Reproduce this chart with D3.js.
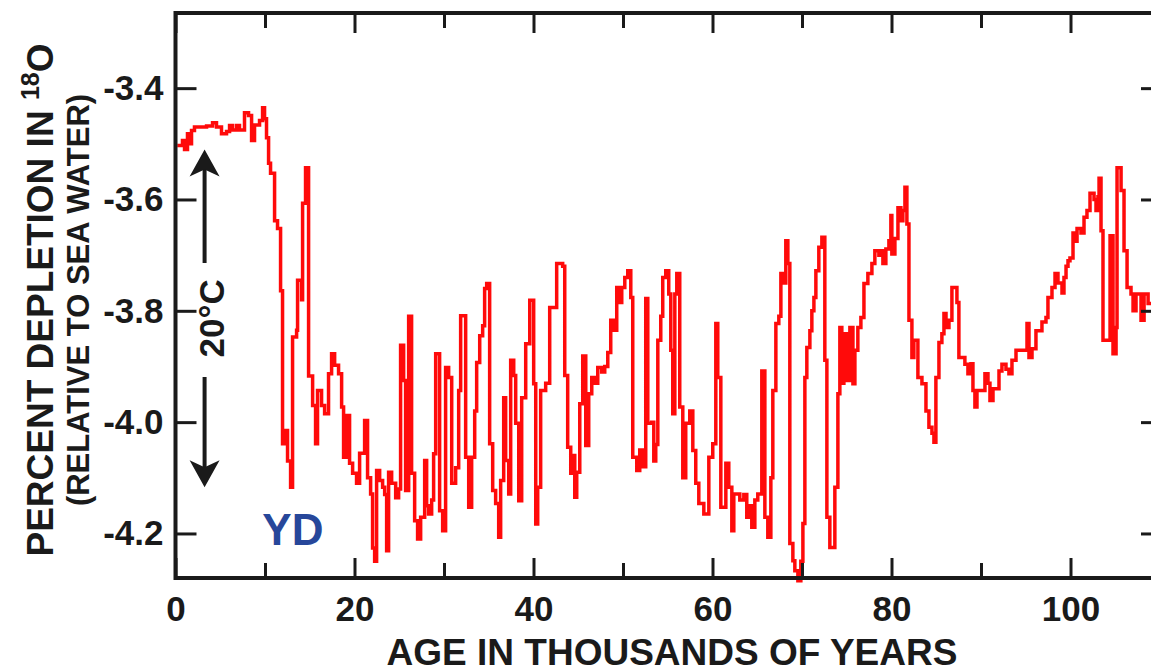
<!DOCTYPE html>
<html>
<head>
<meta charset="utf-8">
<script src="https://cdn.jsdelivr.net/npm/d3@7"></script>
<style>
  html, body { margin: 0; padding: 0; background: #fff; }
  svg { display: block; }
  text { font-family: "Liberation Sans", Arial, Helvetica, sans-serif; font-weight: bold; }
</style>
</head>
<body>
<svg id="chart" width="1151" height="672"></svg>
<script>
// Oxygen-isotope record: age (thousands of years) and step values
const ageKyr = [
  0.2, 0.78, 1.01, 1.34, 1.57, 1.79, 2.12, 3.47, 4.14, 4.58, 5.14, 5.7, 6.04, 6.37, 6.82, 7.15, 7.71, 8.16, 8.5, 8.83,
  9.39, 9.73, 9.95, 10.17, 10.4, 10.62, 11.07, 11.4, 11.74, 11.96, 12.3, 12.52, 12.86, 13.08, 13.53, 13.64, 14.09, 14.2, 14.53, 14.87,
  15.32, 15.65, 15.87, 16.32, 16.66, 17.1, 17.44, 17.78, 18.22, 18.56, 18.78, 19.12, 19.45, 19.79, 20.23, 20.57, 21.13, 21.46, 21.8, 22.02,
  22.25, 22.47, 22.81, 23.14, 23.37, 23.59, 23.81, 24.15, 24.6, 24.93, 25.15, 25.49, 25.71, 26.05, 26.38, 26.72, 27.05, 27.39, 27.84, 28.06,
  28.28, 28.62, 28.84, 29.07, 29.51, 29.85, 30.18, 30.52, 30.86, 31.3, 31.64, 31.86, 32.42, 32.76, 33.09, 33.43, 33.65, 33.99, 34.32, 34.54,
  34.77, 35.1, 35.44, 35.77, 36.11, 36.33, 36.67, 36.89, 37.23, 37.45, 37.79, 38.01, 38.35, 38.68, 39.13, 39.58, 40.02, 40.25, 40.47, 40.8,
  41.36, 41.81, 42.37, 42.59, 43.26, 43.49, 43.82, 44.16, 44.38, 44.61, 44.83, 45.17, 45.5, 45.84, 46.17, 46.51, 46.84, 47.18, 47.62, 47.96,
  48.3, 48.63, 48.97, 49.3, 49.64, 49.86, 50.2, 50.53, 50.87, 51.09, 51.54, 51.87, 52.21, 52.54, 52.77, 53.21, 53.44, 53.66, 53.89, 54.22,
  54.44, 54.78, 55.11, 55.34, 55.56, 55.79, 56.01, 56.34, 56.68, 57.01, 57.46, 57.8, 58.13, 58.47, 59.03, 59.59, 60.03, 60.37, 60.59, 60.93,
  61.49, 61.82, 62.16, 62.38, 63.05, 63.5, 63.83, 64.17, 64.39, 64.73, 65.06, 65.51, 65.85, 66.18, 66.52, 66.74, 67.08, 67.41, 67.64, 67.97,
  68.19, 68.42, 68.64, 68.98, 69.2, 69.54, 69.87, 70.1, 70.32, 70.54, 70.88, 71.1, 71.33, 71.55, 71.88, 72.22, 72.55, 72.78, 73.11, 73.67,
  74.01, 74.23, 74.45, 74.68, 75.01, 75.35, 75.69, 75.91, 76.24, 76.58, 76.92, 77.36, 77.81, 78.14, 78.59, 78.82, 79.04, 79.37, 79.71, 79.93,
  80.04, 80.38, 80.72, 81.05, 81.27, 81.5, 81.72, 81.95, 82.28, 82.5, 82.95, 83.4, 83.85, 84.18, 84.52, 84.74, 84.96, 85.3, 85.63, 85.86,
  86.09, 86.42, 86.75, 87.31, 87.53, 88.2, 88.54, 88.88, 89.1, 89.32, 89.55, 90.22, 90.44, 90.78, 91.0, 91.34, 92.01, 92.34, 92.79, 93.12,
  93.46, 93.91, 95.14, 95.36, 95.7, 96.14, 96.81, 97.26, 97.48, 97.93, 98.27, 98.6, 99.05, 99.27, 99.5, 99.72, 99.94, 100.28, 100.5, 100.73,
  101.17, 101.51, 101.84, 102.18, 102.63, 102.85, 103.07, 103.19, 103.41, 103.63, 104.42, 104.75, 105.09, 105.2, 105.65, 105.98, 106.32, 106.76, 106.99, 107.32,
  107.88, 108.22, 108.67, 110
];
const depletion = [
  -3.503, -3.494, -3.51, -3.482, -3.5, -3.476, -3.47, -3.468, -3.462, -3.47, -3.482, -3.478, -3.467, -3.475, -3.467, -3.475, -3.444, -3.449, -3.494, -3.466,
  -3.458, -3.435, -3.455, -3.489, -3.535, -3.553, -3.638, -3.652, -3.764, -4.039, -4.015, -4.07, -4.117, -3.847, -3.835, -3.745, -3.78, -3.607, -3.543, -3.917,
  -3.97, -4.039, -3.943, -3.97, -3.985, -3.913, -3.877, -3.898, -3.913, -3.973, -4.063, -3.988, -4.074, -4.092, -4.11, -4.056, -3.997, -4.1, -4.129, -4.226,
  -4.25, -4.087, -4.105, -4.117, -4.13, -4.231, -4.09, -4.11, -4.136, -4.12, -3.862, -3.925, -4.123, -3.81, -4.092, -4.177, -4.21, -4.171, -4.069, -4.15,
  -4.165, -4.14, -4.057, -3.877, -4.159, -4.195, -3.902, -3.92, -4.11, -4.082, -3.943, -3.809, -4.063, -4.153, -4.063, -3.98, -3.893, -3.845, -3.827, -3.76,
  -3.751, -4.039, -4.123, -4.146, -4.207, -4.105, -3.956, -4.069, -4.129, -3.889, -3.916, -4.002, -4.141, -3.956, -3.859, -3.781, -3.931, -4.183, -4.117, -3.943,
  -3.93, -3.794, -3.794, -3.715, -3.72, -3.916, -4.045, -4.092, -4.06, -4.135, -4.09, -3.967, -3.881, -4.042, -3.949, -3.92, -3.93, -3.902, -3.91, -3.9,
  -3.875, -3.817, -3.835, -3.758, -3.785, -3.758, -3.74, -3.728, -3.776, -4.063, -4.087, -4.05, -4.08, -3.778, -4.002, -4.0, -4.07, -4.04, -3.853, -3.81,
  -3.74, -3.728, -3.77, -3.871, -3.985, -3.77, -3.733, -3.973, -4.1, -4.002, -3.98, -4.051, -4.11, -4.146, -4.165, -4.063, -4.039, -3.823, -3.92, -4.153,
  -4.074, -4.117, -4.195, -4.129, -4.14, -4.13, -4.171, -4.15, -4.189, -4.14, -4.129, -3.908, -4.171, -4.207, -4.1, -3.943, -3.823, -3.81, -3.733, -3.75,
  -3.674, -3.715, -4.218, -4.249, -4.267, -4.285, -4.25, -4.182, -3.92, -3.866, -3.836, -3.8, -3.776, -3.728, -3.686, -3.668, -3.889, -4.171, -4.225, -4.117,
  -3.949, -3.83, -3.93, -3.841, -3.925, -3.83, -3.931, -3.871, -3.83, -3.812, -3.751, -3.733, -3.715, -3.692, -3.7, -3.692, -3.715, -3.689, -3.674, -3.629,
  -3.698, -3.67, -3.615, -3.638, -3.62, -3.578, -3.644, -3.817, -3.884, -3.853, -3.92, -3.931, -3.98, -4.009, -4.02, -4.036, -3.92, -3.857, -3.841, -3.805,
  -3.83, -3.817, -3.758, -3.785, -3.884, -3.896, -3.913, -3.895, -3.943, -3.973, -3.943, -3.943, -3.913, -3.93, -3.961, -3.94, -3.908, -3.896, -3.905, -3.913,
  -3.889, -3.871, -3.823, -3.884, -3.868, -3.836, -3.82, -3.812, -3.776, -3.758, -3.733, -3.75, -3.768, -3.74, -3.72, -3.71, -3.705, -3.66, -3.675, -3.652,
  -3.66, -3.632, -3.62, -3.589, -3.6, -3.62, -3.595, -3.562, -3.656, -3.853, -3.665, -3.877, -3.83, -3.543, -3.584, -3.692, -3.758, -3.77, -3.8, -3.77,
  -3.817, -3.77, -3.787, -3.787
];

const xMajorTicks = [0, 20, 40, 60, 80, 100];
const xMinorTicks = [10, 30, 50, 70, 90, 110];
const yTicks = [-3.4, -3.6, -3.8, -4.0, -4.2];

const svg = d3.select("#chart");
svg.append("rect").attr("width", 1151).attr("height", 672).attr("fill", "#fff");

const x = d3.scaleLinear().domain([0, 110]).range([175.5, 1160]);
const y = d3.scaleLinear().domain([-4.28, -3.265]).range([578, 13]);

const ink = "#1a1a1a";
const [x0, x1] = x.range();
const [yb, yt] = y.range();

// record
const series = ageKyr.map((a, i) => [a, depletion[i]]);
const line = d3.line().x(d => x(d[0])).y(d => y(d[1])).curve(d3.curveStepAfter);
svg.append("path")
  .datum(series)
  .attr("d", line)
  .attr("fill", "none")
  .attr("stroke", "#ff0a0a")
  .attr("stroke-width", 3.5)
  .attr("stroke-linejoin", "miter");

function styleAxis(g, fontSize) {
  g.select(".domain").remove();
  g.selectAll(".tick line").attr("stroke", ink).attr("stroke-width", 3);
  g.selectAll(".tick text")
    .attr("fill", ink)
    .style("font-size", fontSize + "px")
    .style("font-family", "'Liberation Sans', Arial, Helvetica, sans-serif")
    .style("font-weight", "bold");
}

// bottom axis: labelled major ticks and shorter minor ticks, pointing inward
svg.append("g").attr("transform", `translate(0,${yb})`)
  .call(d3.axisBottom(x).tickValues(xMajorTicks).tickSize(-20).tickFormat(d => d))
  .call(g => styleAxis(g, 35))
  .call(g => g.selectAll(".tick text").attr("y", 18).attr("dy", "0.71em"));
svg.append("g").attr("transform", `translate(0,${yb})`)
  .call(d3.axisBottom(x).tickValues(xMinorTicks).tickSize(-15).tickFormat(""))
  .call(g => styleAxis(g, 35));

// top axis
svg.append("g").attr("transform", `translate(0,${yt})`)
  .call(d3.axisTop(x).tickValues(xMajorTicks).tickSize(-20).tickFormat(""))
  .call(g => styleAxis(g, 35));
svg.append("g").attr("transform", `translate(0,${yt})`)
  .call(d3.axisTop(x).tickValues(xMinorTicks).tickSize(-15).tickFormat(""))
  .call(g => styleAxis(g, 35));

// left axis with labels, right axis ticks only
svg.append("g").attr("transform", `translate(${x0},0)`)
  .call(d3.axisLeft(y).tickValues(yTicks).tickSize(-21).tickPadding(12).tickFormat(d => d.toFixed(1)))
  .call(g => styleAxis(g, 35));
svg.append("g").attr("transform", `translate(${x1},0)`)
  .call(d3.axisRight(y).tickValues(yTicks).tickSize(-19).tickFormat(""))
  .call(g => styleAxis(g, 35));

// frame
svg.append("rect")
  .attr("x", x0).attr("y", yt)
  .attr("width", x1 - x0).attr("height", yb - yt)
  .attr("fill", "none").attr("stroke", ink).attr("stroke-width", 4);

// axis titles
svg.append("text")
  .attr("x", 672).attr("y", 665)
  .attr("text-anchor", "middle")
  .attr("fill", ink)
  .style("font-size", "37px")
  .text("AGE IN THOUSANDS OF YEARS");

const yTitle = svg.append("text")
  .attr("transform", "translate(53,300) rotate(-90)")
  .attr("text-anchor", "middle")
  .attr("fill", ink)
  .style("font-size", "37px");
yTitle.append("tspan").text("PERCENT DEPLETION IN ");
yTitle.append("tspan").attr("dy", -14).style("font-size", "25px").text("18");
yTitle.append("tspan").attr("dy", 14).text("O");

svg.append("text")
  .attr("transform", "translate(89,300) rotate(-90)")
  .attr("text-anchor", "middle")
  .attr("fill", ink)
  .style("font-size", "31px")
  .text("(RELATIVE TO SEA WATER)");

// 20 °C temperature-scale arrow
const ax = x(3.25);
const yUp = y(-3.51), yDown = y(-4.117);
const head = (tipY, dir) => {
  const b = tipY + dir * 27, n = tipY + dir * 20;
  return `M${ax},${tipY}L${ax - 15},${b}L${ax},${n}L${ax + 15},${b}Z`;
};
svg.append("line").attr("x1", ax).attr("x2", ax).attr("y1", yUp + 15).attr("y2", 263)
  .attr("stroke", ink).attr("stroke-width", 4);
svg.append("line").attr("x1", ax).attr("x2", ax).attr("y1", 377).attr("y2", yDown - 15)
  .attr("stroke", ink).attr("stroke-width", 4);
svg.append("path").attr("d", head(yUp, 1)).attr("fill", ink);
svg.append("path").attr("d", head(yDown, -1)).attr("fill", ink);
svg.append("text")
  .attr("transform", `translate(${ax + 19},${(yUp + yDown) / 2}) rotate(-90)`)
  .attr("text-anchor", "middle")
  .attr("fill", ink)
  .style("font-size", "35px")
  .text("20°C");

// Younger Dryas label
svg.append("text")
  .attr("x", x(9.7)).attr("y", y(-4.22))
  .attr("fill", "#27479a")
  .style("font-size", "44px")
  .text("YD");
</script>
</body>
</html>
